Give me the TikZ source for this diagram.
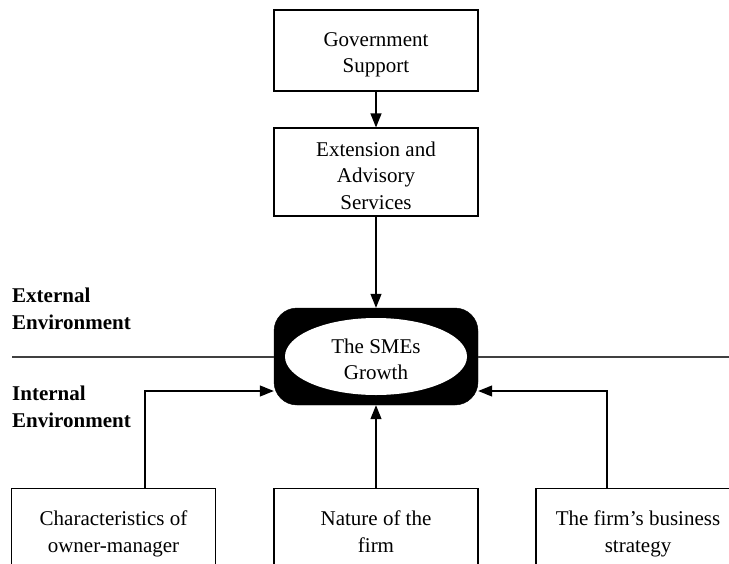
\documentclass[tikz,border=0pt]{standalone}
\usepackage{fontspec}
\setmainfont{Liberation Serif}
\usetikzlibrary{arrows.meta,shapes.geometric}
\newcommand{\topgap}[1]{\rule{0pt}{#1}}
\begin{document}
\begin{tikzpicture}[x=1pt,y=-1pt,
  box/.style={draw,line width=1.2pt,minimum width=204pt,align=center,inner sep=0pt},
  botbox/.style={draw,line width=1.2pt,minimum width=204pt,align=center,anchor=north,
     inner sep=0pt},
  arr/.style={line width=1.2pt,-{Triangle[length=14pt,width=11pt]}},
  sep/.style={line width=1.2pt,black!75},
  lbl/.style={font=\bfseries,align=left,anchor=west,inner sep=0pt}]
\useasboundingbox (0,0) rectangle (729,563);
\fontsize{21}{26.5}\selectfont
\node[box,minimum height=81pt] (gov) at (376,50.5) {\topgap{22pt}Government\\Support};
\node[box,minimum height=88pt] (ext) at (376,172) {\topgap{22pt}Extension and\\Advisory\\Services};
\node[draw,fill=black,rounded corners=23pt,minimum width=204pt,minimum height=97pt] (smebg) at (376,356.5) {};
\node[ellipse,fill=white,minimum width=182pt,minimum height=77pt,inner sep=0pt,align=center] (sme) at (376,356.5) {\topgap{20pt}The SMEs\\Growth};
\node[lbl] (extl) at (12,309) {External\\Environment};
\node[lbl] (intl) at (12,407) {Internal\\Environment};
\node[botbox] (left) at (113.5,488) {\topgap{37pt}Characteristics of\\owner-manager\rule[-60pt]{0pt}{60pt}};
\node[botbox] (mid) at (376,488) {\topgap{37pt}Nature of the\\firm\rule[-60pt]{0pt}{60pt}};
\node[botbox] (right) at (638,488) {\topgap{37pt}The firm’s business\\strategy\rule[-60pt]{0pt}{60pt}};
\coordinate (lstart) at (12,357);
\coordinate (rend) at (729,357);
\draw[arr] (gov) -- (ext);
\draw[arr] (ext) -- (smebg);
\draw[sep] (lstart) -- (lstart -| smebg.west);
\draw[sep] (rend -| smebg.east) -- (rend);
\draw[arr] ([xshift=31.5pt]left.north) |- ([yshift=-34.5pt]smebg.west);
\draw[arr] (mid) -- (smebg);
\draw[arr] ([xshift=-31pt]right.north) |- ([yshift=-34.5pt]smebg.east);
\end{tikzpicture}
\end{document}
